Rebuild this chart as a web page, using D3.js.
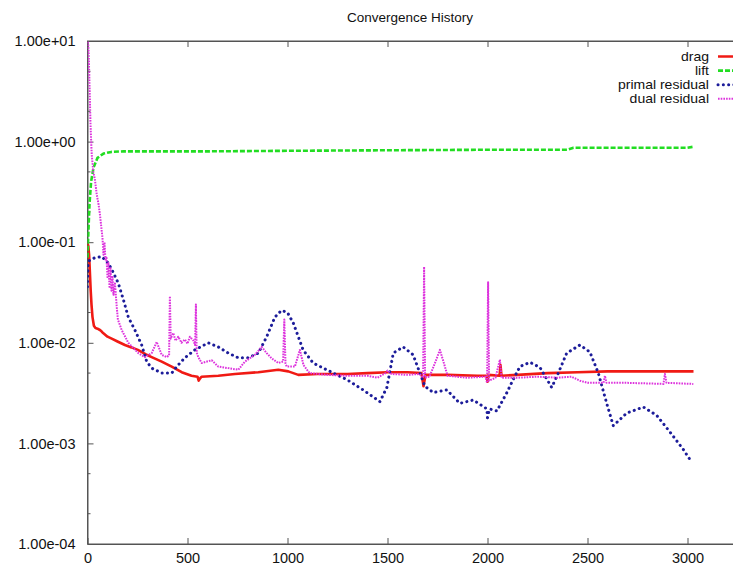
<!DOCTYPE html>
<html>
<head>
<meta charset="utf-8">
<script src="https://cdn.jsdelivr.net/npm/d3@7"></script>
<style>
  body { margin: 0; background: #fff; }
  svg { display: block; }
  text { font-family: "Liberation Sans", Arial, Helvetica, sans-serif; fill: #111; }
</style>
</head>
<body>
<svg id="chart" width="733" height="568"></svg>
<script>
// Convergence history of a solver run: force coefficients and residuals per iteration.
const chartTitle = "Convergence History";
const seriesNames = ["drag", "lift", "primal residual", "dual residual"];
const xTickValues = [0, 500, 1000, 1500, 2000, 2500, 3000];
const yTickValues = [1e-4, 1e-3, 1e-2, 1e-1, 1e0, 1e1];

// [iteration, value]
const drag = [
  [0,0.098],[4,0.092],[8,0.075],[12,0.05],[16,0.033],[20,0.024],[25,0.018],[32,0.0148],
  [40,0.014],[50,0.0138],[62,0.0134],[70,0.013],[78,0.0125],[100,0.0115],[121,0.011],
  [150,0.0103],[187,0.0095],[220,0.009],[252,0.0085],[290,0.0077],[321,0.0072],[371,0.0065],
  [421,0.0058],[471,0.0051],[520,0.0047],[550,0.0046],[556,0.0042],[562,0.0044],[570,0.0046],
  [654,0.0047],[737,0.0049],[854,0.0051],[954,0.0054],[1004,0.0052],[1054,0.0048],[1150,0.0049],
  [1300,0.0049],[1400,0.005],[1500,0.0051],[1600,0.0051],[1670,0.005],[1680,0.0037],[1690,0.0048],
  [1800,0.0048],[1950,0.0047],[1995,0.0047],[2000,0.0041],[2005,0.0048],[2060,0.0047],[2065,0.006],
  [2070,0.0047],[2150,0.0048],[2300,0.005],[2450,0.0051],[2600,0.0052],[2800,0.0052],[3030,0.0052]
];

const lift = [
  [0,0.07],[4,0.12],[10,0.24],[18,0.4],[30,0.55],[50,0.69],[80,0.76],[120,0.79],[180,0.8],
  [300,0.8],[600,0.8],[1000,0.81],[1500,0.82],[2000,0.83],[2400,0.83],[2430,0.87],[2800,0.87],
  [3000,0.87],[3030,0.89]
];

const primalResidual = [
  [0,0.036],[3,0.062],[10,0.066],[37,0.07],[71,0.072],[104,0.062],[129,0.05],[154,0.039],
  [179,0.027],[204,0.018],[237,0.0134],[271,0.0095],[296,0.0065],[321,0.0056],[371,0.005],
  [421,0.005],[446,0.0058],[487,0.0071],[537,0.0085],[604,0.01],[654,0.0091],[704,0.0079],
  [754,0.0071],[804,0.0071],[854,0.0079],[896,0.0115],[937,0.018],[970,0.021],[1000,0.02],
  [1029,0.0157],[1054,0.0115],[1078,0.0085],[1128,0.0063],[1212,0.0052],[1297,0.0043],
  [1378,0.0034],[1462,0.0026],[1497,0.0036],[1529,0.0079],[1578,0.0091],[1628,0.0076],
  [1662,0.005],[1687,0.0037],[1729,0.0032],[1797,0.0034],[1862,0.0025],[1929,0.0027],
  [1997,0.0022],[2000,0.0018],[2010,0.0022],[2047,0.0021],[2097,0.0032],[2128,0.0043],
  [2162,0.0058],[2212,0.0064],[2262,0.0057],[2321,0.0036],[2354,0.005],[2396,0.0079],
  [2462,0.0095],[2512,0.0081],[2554,0.005],[2596,0.0025],[2629,0.0015],[2696,0.002],
  [2779,0.0023],[2846,0.0019],[2912,0.0013],[2979,0.00087],[3021,0.00065]
];

const dualResidual = [
  [0,9.8],[3,9.5],[6,7.5],[9,4.5],[12,2.6],[15,1.5],[18,1.05],[21,0.75],[29,0.5],[37,0.42],
  [46,0.3],[55,0.24],[62,0.19],[71,0.13],[75,0.11],[80,0.075],[85,0.1],[90,0.065],[95,0.07],
  [100,0.045],[105,0.062],[110,0.036],[115,0.055],[120,0.033],[125,0.045],[130,0.03],[137,0.04],
  [146,0.023],[152,0.017],[171,0.0134],[204,0.01],[254,0.0079],[287,0.0072],[321,0.0079],
  [346,0.0102],[371,0.0076],[396,0.0072],[408,0.0075],[412,0.029],[416,0.011],[429,0.0125],
  [440,0.0105],[454,0.0115],[470,0.01],[487,0.0108],[500,0.0098],[512,0.0115],[530,0.0105],
  [538,0.0095],[542,0.024],[546,0.008],[554,0.0072],[571,0.0063],[621,0.0067],[654,0.0058],
  [704,0.0056],[754,0.0054],[787,0.0065],[837,0.0076],[871,0.0091],[896,0.0079],[921,0.007],
  [954,0.0063],[978,0.0065],[984,0.017],[990,0.0062],[996,0.0058],[1037,0.0058],[1062,0.0085],
  [1080,0.006],[1110,0.005],[1200,0.0048],[1300,0.0047],[1400,0.0047],[1450,0.0045],[1490,0.005],
  [1500,0.0053],[1520,0.0049],[1600,0.0048],[1660,0.0049],[1678,0.0045],[1683,0.057],[1688,0.0045],
  [1710,0.0046],[1740,0.0065],[1762,0.0085],[1785,0.006],[1800,0.0047],[1900,0.0045],[1990,0.0046],
  [1998,0.004],[2003,0.04],[2008,0.0042],[2040,0.0045],[2062,0.0068],[2070,0.0045],[2150,0.0045],
  [2250,0.0046],[2350,0.0045],[2420,0.0046],[2462,0.0042],[2500,0.004],[2580,0.004],[2587,0.0047],
  [2595,0.004],[2700,0.004],[2880,0.0039],[2887,0.0049],[2895,0.004],[3029,0.0039]
];

const seriesData = [drag, lift, primalResidual, dualResidual];
const seriesStyle = [
  { color: "#f01a14", width: 2.6, dash: null,      cap: "butt" },
  { color: "#22dd22", width: 2.6, dash: "5,2",     cap: "butt" },
  { color: "#1c1c9a", width: 3.0, dash: "0.1,5.2", cap: "round" },
  { color: "#dd33dd", width: 2.0, dash: "1.6,1.1", cap: "butt" }
];

const svg = d3.select("#chart");
// the frame runs to iteration 3500, past the right edge of the page
const plot = { left: 87.5, top: 41, right: 787.5, bottom: 544 };

const x = d3.scaleLinear().domain([0, 3500]).range([plot.left, plot.right]);
const y = d3.scaleLog().domain([1e-4, 10]).range([plot.bottom, plot.top]);

const fmtExp = d => {
  const [m, e] = d.toExponential(2).split("e");
  return m + "e" + e[0] + e.slice(1).padStart(2, "0");
};

// title
svg.append("text")
  .attr("x", 410).attr("y", 17)
  .attr("text-anchor", "middle").attr("dominant-baseline", "central")
  .style("font-size", "13.5px")
  .text(chartTitle);

// axes (ticks point inward, gnuplot style)
const axisColor = "#555";

const gx = svg.append("g").attr("transform", `translate(0,${plot.bottom})`)
  .call(d3.axisBottom(x).tickValues(xTickValues).tickFormat(d3.format("d"))
    .tickSizeInner(-6).tickSizeOuter(0).tickPadding(9));
const gxTop = svg.append("g").attr("transform", `translate(0,${plot.top})`)
  .call(d3.axisTop(x).tickValues(xTickValues).tickSizeInner(-6).tickSizeOuter(0).tickFormat(""));
const gy = svg.append("g").attr("transform", `translate(${plot.left},0)`)
  .call(d3.axisLeft(y).tickValues(yTickValues).tickFormat(fmtExp)
    .tickSizeInner(-6).tickSizeOuter(0).tickPadding(12));

// minor ticks on the log axis
const minorTicks = [];
for (let e = -4; e < 1; e++) for (const k of [2, 5]) minorTicks.push(k * Math.pow(10, e));
svg.append("g").selectAll("line").data(minorTicks).join("line")
  .attr("x1", plot.left).attr("x2", plot.left + 3)
  .attr("y1", d => y(d)).attr("y2", d => y(d))
  .attr("stroke", axisColor).attr("stroke-width", 1);

[gx, gxTop, gy].forEach(g => {
  g.selectAll(".domain").attr("stroke", axisColor);
  g.selectAll(".tick line").attr("stroke", axisColor);
  g.selectAll(".tick text").style("font-size", "14.5px").attr("fill", "#111")
    .style("font-family", '"Liberation Sans", Arial, sans-serif');
});

// frame
svg.append("rect")
  .attr("x", plot.left).attr("y", plot.top)
  .attr("width", plot.right - plot.left).attr("height", plot.bottom - plot.top)
  .attr("fill", "none").attr("stroke", axisColor).attr("stroke-width", 1);

// data
svg.append("clipPath").attr("id", "plot-clip").append("rect")
  .attr("x", plot.left).attr("y", plot.top - 2)
  .attr("width", plot.right - plot.left).attr("height", plot.bottom - plot.top + 2);

const line = d3.line().x(d => x(d[0])).y(d => y(d[1]));
const dataLayer = svg.append("g").attr("clip-path", "url(#plot-clip)");
seriesData.forEach((data, i) => {
  const s = seriesStyle[i];
  dataLayer.append("path")
    .datum(data)
    .attr("d", line)
    .attr("fill", "none")
    .attr("stroke", s.color)
    .attr("stroke-width", s.width)
    .attr("stroke-linecap", s.cap)
    .attr("stroke-linejoin", "round")
    .attr("stroke-dasharray", s.dash);
});

// legend: compact rows, text widened slightly
const legend = svg.append("g");
seriesNames.forEach((name, i) => {
  const s = seriesStyle[i];
  const ly = 56.5 + i * 14.1;
  legend.append("text")
    .attr("transform", `translate(709,${ly}) scale(1.13,1)`)
    .attr("text-anchor", "end").attr("dominant-baseline", "central")
    .style("font-size", "12.4px")
    .text(name);
  legend.append("line")
    .attr("x1", 718).attr("x2", 770).attr("y1", ly).attr("y2", ly)
    .attr("stroke", s.color).attr("stroke-width", s.width)
    .attr("stroke-linecap", s.cap)
    .attr("stroke-dasharray", s.dash);
});
</script>
</body>
</html>
